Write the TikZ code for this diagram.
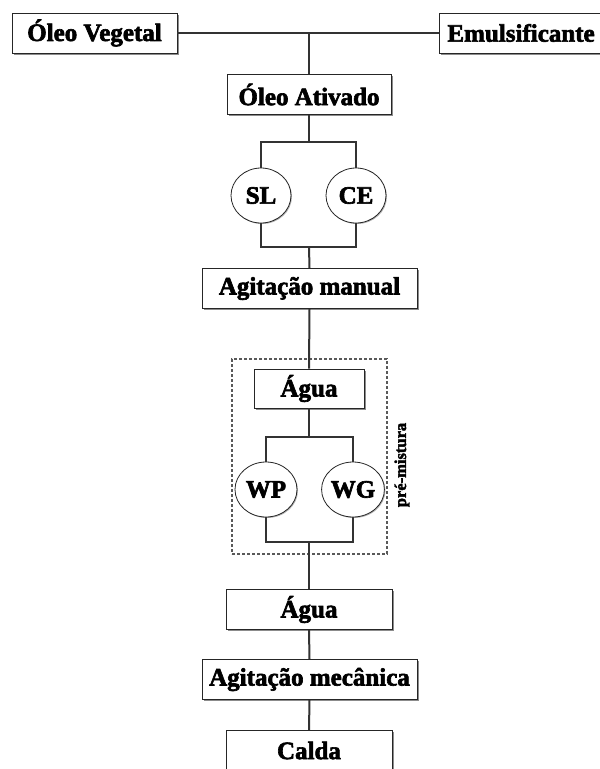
\documentclass[tikz,border=0pt]{standalone}
\usepackage{fontspec}
\setmainfont{Liberation Serif}[BoldFeatures={FakeBold=2.5}]
\usetikzlibrary{shapes.geometric,shadows}
\begin{document}
\begin{tikzpicture}[x=1pt,y=-1pt,
  lbl/.style={font=\bfseries\fontsize{25}{29}\selectfont},
  box/.style={lbl, draw=black!85, line width=0.9pt, fill=white, minimum height=40pt, inner xsep=6pt,
    drop shadow={shadow xshift=1.8pt, shadow yshift=-1.8pt, fill=black!45, opacity=1}},
  ell/.style={lbl, ellipse, draw=black!85, line width=0.8pt, fill=white, minimum width=60pt, minimum height=55pt, inner sep=0pt,
    drop shadow={shadow xshift=1pt, shadow yshift=-1pt, fill=black!30, opacity=1}},
  con/.style={draw=black!80, line width=2pt},
  dashbox/.style={draw=black!65, line width=1.2pt, dash pattern=on 3pt off 2pt, minimum width=155pt, minimum height=195pt, inner sep=0pt},
  side/.style={font=\bfseries\fontsize{16.5}{19}\selectfont, rotate=90}]
\useasboundingbox (0,0) rectangle (600,769);
% dashed frame
\node[dashbox] (pm) at (309.5,456.5) {};
\node[side] (pml) at (402,465) {pré-mistura};
% boxes
\node[box, minimum width=165pt] (ov) at (94.5,33) {Óleo Vegetal};
\node[box, anchor=west, text width=155pt, align=left, inner xsep=8pt] (em) at (439,33) {Emulsificante};
\node[box, minimum width=164pt] (oa) at (309,94.5) {Óleo Ativado};
\node[ell] (sl) at (261,195.5) {SL};
\node[ell] (ce) at (356,195.5) {CE};
\node[box, minimum width=215pt] (am) at (309.5,288.5) {Agitação manual};
\node[box, minimum width=110pt, minimum height=39pt] (ag1) at (309,388.5) {Água};
\node[ell, minimum width=62pt] (wp) at (266,489.5) {WP};
\node[ell, minimum width=62pt] (wg) at (353,489.5) {WG};
\node[box, minimum width=166pt] (ag2) at (309,609.5) {Água};
\node[box, minimum width=215pt] (amec) at (309.5,679.5) {Agitação mecânica};
\node[box, minimum width=166pt] (calda) at (309,750.5) {Calda};
% junction points
\coordinate (j0) at (309,33);
\coordinate (b1) at (309,142);
\coordinate (b1l) at (261,142);
\coordinate (b1r) at (356,142);
\coordinate (b2) at (309,247);
\coordinate (b2l) at (261,247);
\coordinate (b2r) at (356,247);
\coordinate (b3) at (309,437);
\coordinate (b3l) at (266,437);
\coordinate (b3r) at (353,437);
\coordinate (b4) at (309,542);
\coordinate (b4l) at (266,542);
\coordinate (b4r) at (353,542);
% connectors
\draw[con] (ov.east) -- (em.west);
\draw[con] (j0) -- (oa.north);
\draw[con] (oa.south) -- (b1);
\draw[con] (sl.north) -- (b1l) -- (b1r) -- (ce.north);
\draw[con] (sl.south) -- (b2l) -- (b2r) -- (ce.south);
\draw[con] (b2) -- (am.north);
\draw[con] (am.south) -- (ag1.north);
\draw[con] (ag1.south) -- (b3);
\draw[con] (wp.north) -- (b3l) -- (b3r) -- (wg.north);
\draw[con] (wp.south) -- (b4l) -- (b4r) -- (wg.south);
\draw[con] (b4) -- (ag2.north);
\draw[con] (ag2.south) -- (amec.north);
\draw[con] (amec.south) -- (calda.north);
\end{tikzpicture}
\end{document}
